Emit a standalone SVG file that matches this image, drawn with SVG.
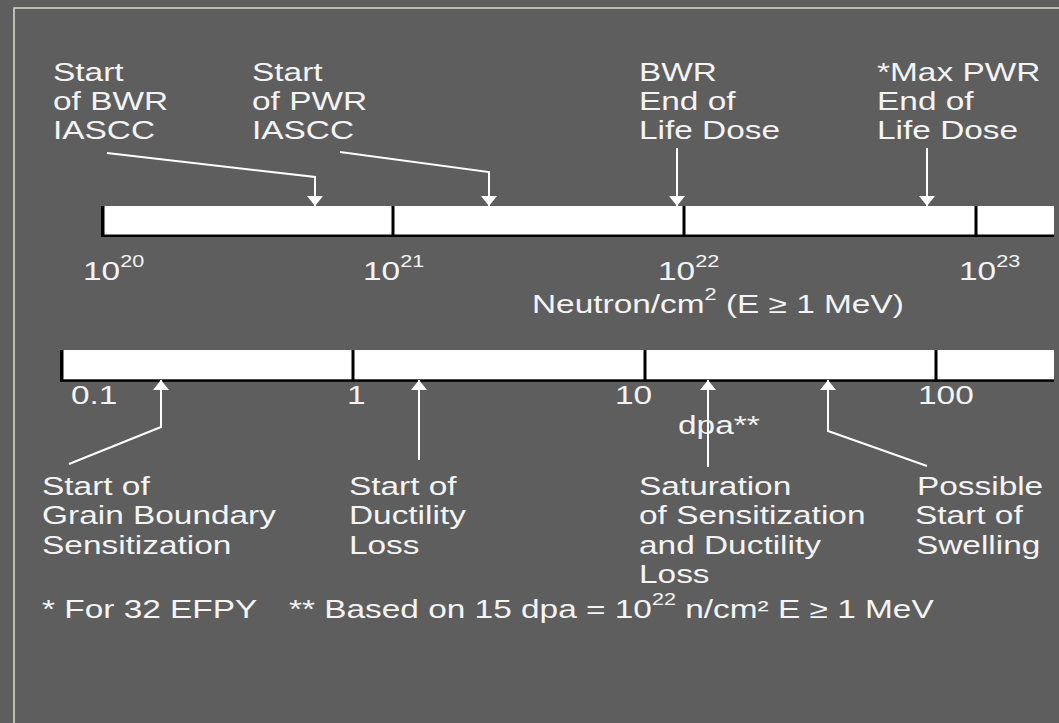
<svg xmlns="http://www.w3.org/2000/svg" width="1059" height="723" viewBox="0 0 1059 723">
<style>
.t{font-family:"Liberation Sans",Arial,sans-serif;font-size:25.5px;fill:#f4f4f4}
.sup{font-size:16.5px}
.bar{fill:#ffffff}
.edge{fill:#000000}
.conn{fill:none;stroke:#ffffff;stroke-width:2}
</style>
<defs>
<marker id="ah" markerUnits="userSpaceOnUse" markerWidth="10" markerHeight="16" refX="10" refY="8" orient="auto" viewBox="0 0 10 16">
<path d="M0,0 L10,8 L0,16 z" fill="#ffffff"/>
</marker>
</defs>
<rect x="0" y="0" width="1059" height="723" fill="#5e5e5e"/>
<rect x="14" y="8" width="1070" height="740" fill="none" stroke="#dcdcd4" stroke-width="1.5"/>

<g id="neutron-scale">
<rect class="bar" x="101" y="206" width="953" height="30"/>
<rect class="edge" x="101" y="206" width="3.5" height="31"/>
<rect class="edge" x="101" y="234.5" width="953" height="2.5"/>
<rect class="edge" x="391.5" y="206" width="3" height="31"/>
<rect class="edge" x="682.5" y="206" width="3" height="31"/>
<rect class="edge" x="974.5" y="206" width="3" height="31"/>
</g>

<g id="dpa-scale">
<rect class="bar" x="60" y="350" width="994" height="30"/>
<rect class="edge" x="60" y="350" width="3.5" height="31.5"/>
<rect class="edge" x="60" y="379.3" width="994" height="2.5"/>
<rect class="edge" x="351.5" y="350" width="3" height="31.5"/>
<rect class="edge" x="643.5" y="350" width="3" height="31.5"/>
<rect class="edge" x="934.5" y="350" width="3" height="31.5"/>
</g>

<g id="connectors">
<path class="conn" d="M107,153 L315,177 L315,206" marker-end="url(#ah)"/>
<path class="conn" d="M340,152 L489,172 L489,206" marker-end="url(#ah)"/>
<path class="conn" d="M677,148 L677,206" marker-end="url(#ah)"/>
<path class="conn" d="M927,148 L927,206" marker-end="url(#ah)"/>
<path class="conn" d="M69,464 L161,427 L161,380" marker-end="url(#ah)"/>
<path class="conn" d="M419,460 L419,380" marker-end="url(#ah)"/>
<path class="conn" d="M708,467 L708,380" marker-end="url(#ah)"/>
<path class="conn" d="M927,466 L828,431 L828,380" marker-end="url(#ah)"/>
</g>

<g transform="scale(1.31 1)">
<g id="label-bwr-iascc">
<text class="t" x="40.5" y="81">Start</text>
<text class="t" x="40.5" y="110">of BWR</text>
<text class="t" x="40.5" y="139">IASCC</text>
</g>
<g id="label-pwr-iascc">
<text class="t" x="192.4" y="81">Start</text>
<text class="t" x="192.4" y="110">of PWR</text>
<text class="t" x="192.4" y="139">IASCC</text>
</g>
<g id="label-bwr-eol">
<text class="t" x="487.8" y="81">BWR</text>
<text class="t" x="487.8" y="110">End of</text>
<text class="t" x="487.8" y="139">Life Dose</text>
</g>
<g id="label-pwr-eol">
<text class="t" x="669.5" y="81">*Max PWR</text>
<text class="t" x="669.5" y="110">End of</text>
<text class="t" x="669.5" y="139">Life Dose</text>
</g>
<g id="neutron-ticks">
<text class="t" x="63.4" y="280">10<tspan class="sup" dy="-13">20</tspan></text>
<text class="t" x="277.1" y="280">10<tspan class="sup" dy="-13">21</tspan></text>
<text class="t" x="502.3" y="280">10<tspan class="sup" dy="-13">22</tspan></text>
<text class="t" x="732.1" y="280">10<tspan class="sup" dy="-13">23</tspan></text>
<text class="t" x="406.1" y="313">Neutron/cm<tspan class="sup" dy="-13">2</tspan><tspan dy="13"> (E ≥ 1 MeV)</tspan></text>
</g>
<g id="dpa-ticks">
<text class="t" x="54.2" y="404">0.1</text>
<text class="t" x="264.9" y="404">1</text>
<text class="t" x="469.5" y="404">10</text>
<text class="t" x="700.8" y="404">100</text>
<text class="t" x="517.6" y="434">dpa**</text>
</g>
<g id="label-sensitization">
<text class="t" x="32.1" y="495">Start of</text>
<text class="t" x="32.1" y="524">Grain Boundary</text>
<text class="t" x="32.1" y="554">Sensitization</text>
</g>
<g id="label-ductility">
<text class="t" x="266.4" y="495">Start of</text>
<text class="t" x="266.4" y="524">Ductility</text>
<text class="t" x="266.4" y="554">Loss</text>
</g>
<g id="label-saturation">
<text class="t" x="487.8" y="495">Saturation</text>
<text class="t" x="487.8" y="524">of Sensitization</text>
<text class="t" x="487.8" y="554">and Ductility</text>
<text class="t" x="487.8" y="583">Loss</text>
</g>
<g id="label-swelling">
<text class="t" x="700" y="495">Possible</text>
<text class="t" x="698.5" y="524">Start of</text>
<text class="t" x="699.2" y="554">Swelling</text>
</g>
<g id="footnote">
<text class="t" x="32.1" y="618">* For 32 EFPY</text>
<text class="t" x="220.6" y="618">** Based on 15 dpa = 10<tspan class="sup" dy="-13">22</tspan><tspan dy="13"> n/cm² E ≥ 1 MeV</tspan></text>
</g>
</g>
</svg>
